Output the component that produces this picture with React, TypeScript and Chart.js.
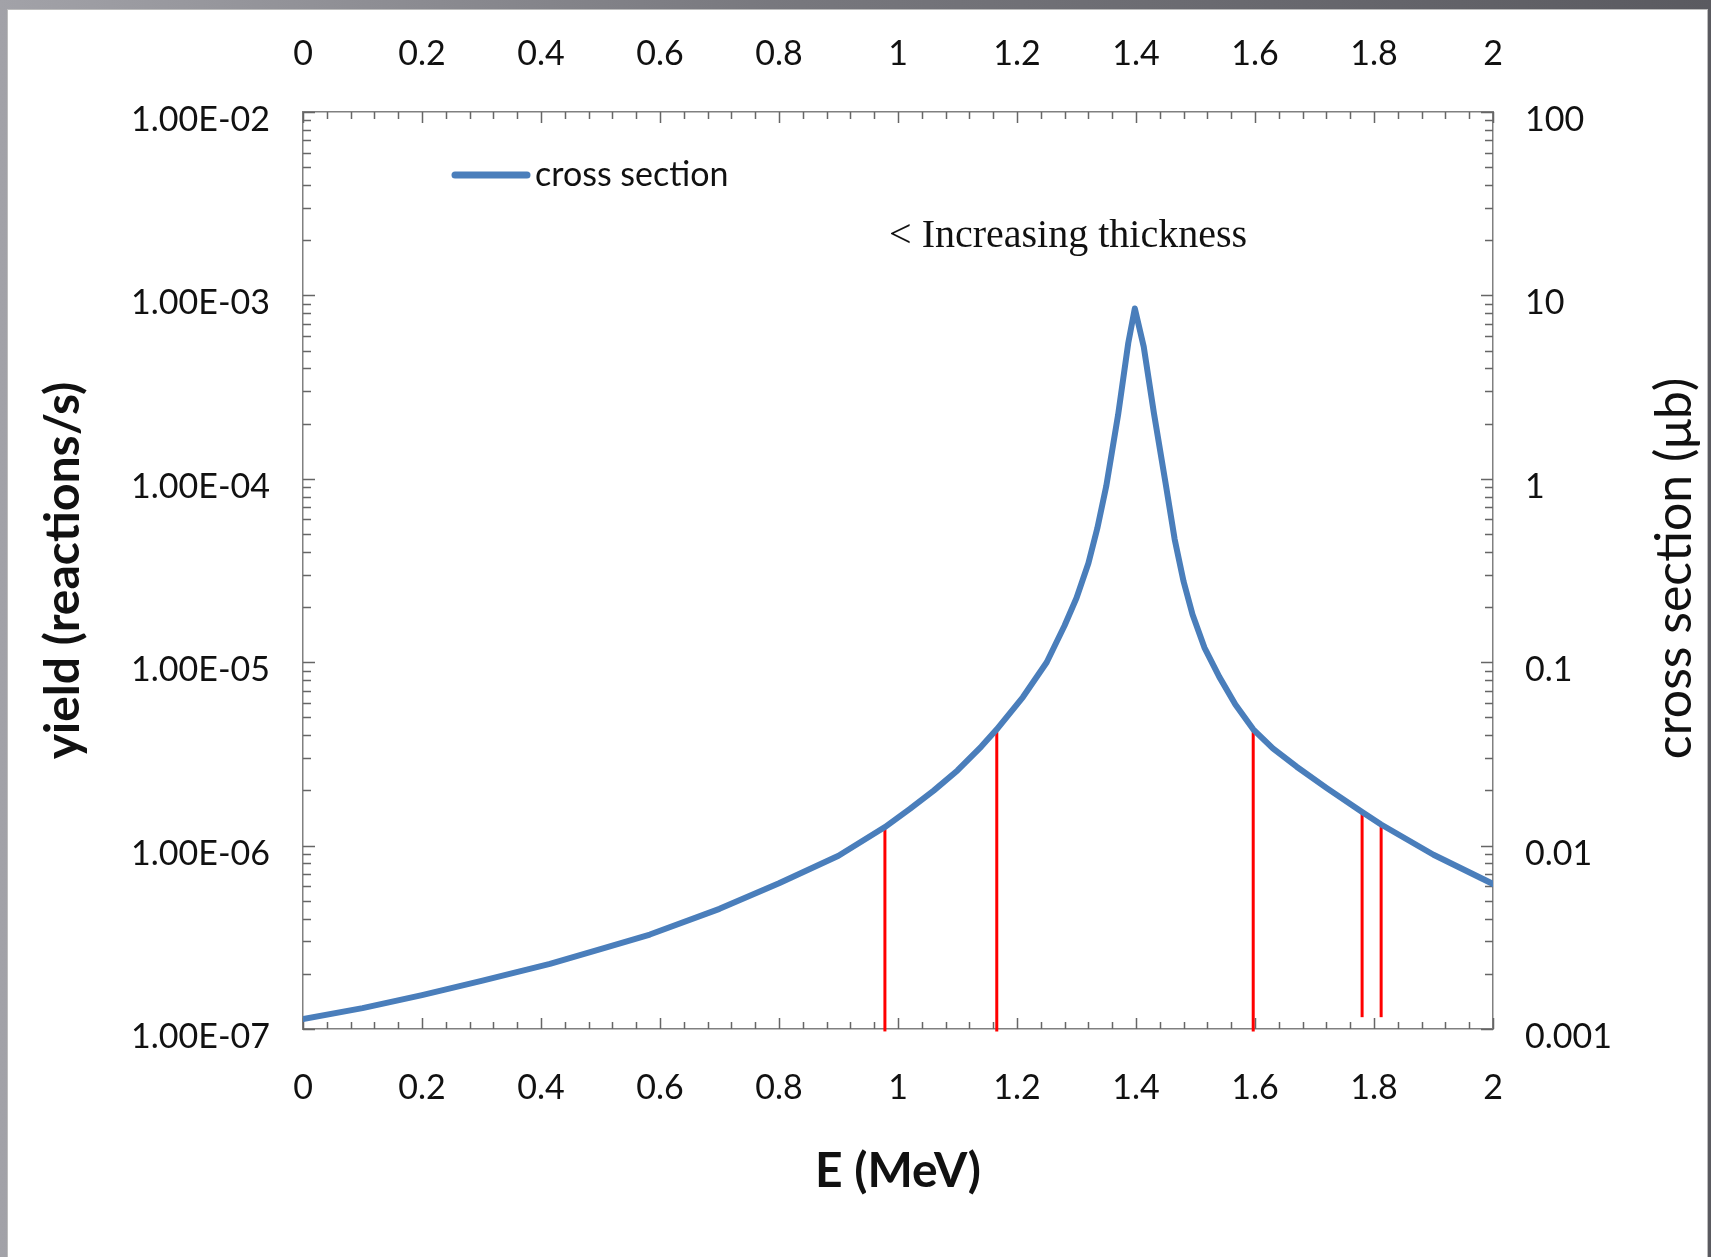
import React, { useEffect, useRef } from 'react';
import { Chart, registerables } from 'chart.js';

Chart.register(...registerables);

// ---- data ----
const energyMeV = [
  0, 0.1, 0.2, 0.3, 0.415, 0.5, 0.583, 0.7, 0.8, 0.9, 0.978, 1.02, 1.06, 1.1, 1.14, 1.166, 1.21,
  1.25, 1.28, 1.3, 1.32, 1.335, 1.35, 1.37, 1.387, 1.398, 1.413, 1.43, 1.45, 1.465, 1.48, 1.495,
  1.515, 1.54, 1.567, 1.597, 1.63, 1.67, 1.72, 1.78, 1.812, 1.9, 2.0,
];
const crossSectionMicrobarn = [
  0.001132, 0.0013, 0.001531, 0.001828, 0.002265, 0.002723, 0.003273, 0.004519, 0.006237, 0.00881,
  0.01262, 0.01585, 0.01995, 0.0257, 0.03467, 0.04305, 0.06457, 0.1, 0.1585, 0.2239, 0.3467, 0.537,
  0.912, 2.239, 5.5, 8.49, 5.25, 2.291, 0.933, 0.4677, 0.2754, 0.182, 0.1202, 0.08318, 0.05888,
  0.04305, 0.03388, 0.02692, 0.02065, 0.01524, 0.01303, 0.008913, 0.00618,
];
const markerEnergyMeV = [0.978, 1.166, 1.597, 1.78, 1.812];
const markerTopYield = [1.262e-6, 4.305e-6, 4.305e-6, 1.524e-6, 1.303e-6];
const markerBottomYield = [9.7e-8, 9.7e-8, 9.7e-8, 1.16e-7, 1.16e-7];

const xTickValues = [0, 0.2, 0.4, 0.6, 0.8, 1, 1.2, 1.4, 1.6, 1.8, 2];
const xTickLabels = ['0', '0.2', '0.4', '0.6', '0.8', '1', '1.2', '1.4', '1.6', '1.8', '2'];
const yieldTickValues = [1e-7, 1e-6, 1e-5, 1e-4, 1e-3, 1e-2];
const yieldTickLabels = ['1.00E-07', '1.00E-06', '1.00E-05', '1.00E-04', '1.00E-03', '1.00E-02'];
const sigmaTickValues = [0.001, 0.01, 0.1, 1, 10, 100];
const sigmaTickLabels = ['0.001', '0.01', '0.1', '1', '10', '100'];

const seriesLabel = 'cross section';
const xTitle = 'E (MeV)';
const yTitle = 'yield (reactions/s)';
const y1Title = 'cross section (\u03bcb)';
const annotationText = '< Increasing thickness';
const annotationE = 0.985;
const annotationYield = 2.1e-3;

const CURVE_COLOR = '#4a7ebb';
const MARKER_COLOR = '#ff0000';
const TEXT_COLOR = '#111111';
const TICK_COLOR = '#666666';
const FRAME_COLOR = '#808080';

const W = 1711;
const H = 1257;

const decorPlugin = {
  id: 'decor',
  beforeDatasetsDraw(chart: any) {
    const { ctx, chartArea: a, scales } = chart;
    const x = scales.x;
    const y = scales.y;
    const y1 = scales.y1;
    ctx.save();
    ctx.strokeStyle = TICK_COLOR;
    ctx.lineWidth = 1.5;
    ctx.beginPath();
    // x ticks (inward), minor every 0.04
    for (let i = 0; i <= 50; i++) {
      const px = Math.round(x.getPixelForValue(i * 0.04)) + 0.5;
      const len = i % 5 === 0 ? 11 : 7;
      ctx.moveTo(px, a.bottom);
      ctx.lineTo(px, a.bottom - len);
      ctx.moveTo(px, a.top);
      ctx.lineTo(px, a.top + len);
    }
    // log ticks (inward)
    for (let d = 0; d < yieldTickValues.length; d++) {
      for (let m = 1; m <= 9; m++) {
        if (d === yieldTickValues.length - 1 && m > 1) break;
        const len = m === 1 ? 12 : 8;
        const py = Math.round(y.getPixelForValue(yieldTickValues[d] * m)) + 0.5;
        ctx.moveTo(a.left, py);
        ctx.lineTo(a.left + len, py);
        const py1 = Math.round(y1.getPixelForValue(sigmaTickValues[d] * m)) + 0.5;
        ctx.moveTo(a.right, py1);
        ctx.lineTo(a.right - len, py1);
      }
    }
    ctx.stroke();
    ctx.restore();
  },
  afterDraw(chart: any) {
    const { ctx, chartArea: a, scales } = chart;
    ctx.save();
    // legend
    const ds = chart.data.datasets[0];
    const ly = a.top + 63;
    ctx.strokeStyle = ds.borderColor;
    ctx.lineWidth = 7;
    ctx.lineCap = 'round';
    ctx.beginPath();
    ctx.moveTo(a.left + 152, ly);
    ctx.lineTo(a.left + 224, ly);
    ctx.stroke();
    ctx.fillStyle = TEXT_COLOR;
    ctx.font = '34px Lato';
    ctx.textAlign = 'left';
    ctx.textBaseline = 'middle';
    ctx.fillText(ds.label, a.left + 232, ly);
    // annotation
    ctx.font = '40px "Liberation Serif"';
    ctx.fillText(
      annotationText,
      scales.x.getPixelForValue(annotationE),
      scales.y.getPixelForValue(annotationYield)
    );
    // right axis title, reading bottom-to-top
    ctx.translate(chart.width - 36, (a.top + a.bottom) / 2 - 2);
    ctx.rotate(-Math.PI / 2);
    ctx.textAlign = 'center';
    ctx.font = '50px Lato';
    ctx.fillText(y1Title, 0, 0);
    ctx.restore();
  },
};

const tickFont = { family: 'Lato', size: 34 };
const border = { display: true, color: FRAME_COLOR, width: 1.5 };

export default function App() {
  const ref = useRef<HTMLCanvasElement | null>(null);

  useEffect(() => {
    if (!ref.current) return;
    const curve = energyMeV.map((e, i) => ({ x: e, y: crossSectionMicrobarn[i] }));
    const markers = markerEnergyMeV.map((e, i) => ({
      label: 'marker' + i,
      data: [
        { x: e, y: markerBottomYield[i] },
        { x: e, y: markerTopYield[i] },
      ],
      xAxisID: 'x',
      yAxisID: 'y',
      borderColor: MARKER_COLOR,
      borderWidth: 3,
      pointRadius: 0,
      clip: false as any,
    }));

    const chart = new Chart(ref.current, {
      type: 'line',
      data: {
        datasets: [
          {
            label: seriesLabel,
            data: curve,
            xAxisID: 'x',
            yAxisID: 'y1',
            borderColor: CURVE_COLOR,
            backgroundColor: CURVE_COLOR,
            borderWidth: 6,
            pointRadius: 0,
            tension: 0,
            borderJoinStyle: 'round',
            borderCapStyle: 'round',
          },
          ...markers,
        ],
      },
      options: {
        animation: false,
        responsive: false,
        devicePixelRatio: 1,
        layout: { padding: 0 },
        plugins: { legend: { display: false }, tooltip: { enabled: false } },
        scales: {
          x: {
            type: 'linear',
            position: 'bottom',
            min: 0,
            max: 2,
            grid: { display: false, drawTicks: false },
            border,
            afterBuildTicks: (s: any) => { s.ticks = xTickValues.map((v) => ({ value: v })); },
            afterFit: (s: any) => { s.height = 228; },
            ticks: {
              autoSkip: false,
              maxRotation: 0,
              padding: 39,
              font: tickFont,
              color: TEXT_COLOR,
              callback: (_v: any, i: number) => xTickLabels[i],
            },
            title: {
              display: true,
              text: xTitle,
              font: { family: 'Lato', size: 48, weight: 'bold' },
              color: TEXT_COLOR,
              padding: { top: 0, bottom: 57 },
            },
          },
          xTop: {
            type: 'linear',
            axis: 'x',
            position: 'top',
            min: 0,
            max: 2,
            grid: { display: false, drawTicks: false },
            border,
            afterBuildTicks: (s: any) => { s.ticks = xTickValues.map((v) => ({ value: v })); },
            afterFit: (s: any) => { s.height = 112; },
            ticks: {
              autoSkip: false,
              maxRotation: 0,
              padding: 38,
              font: tickFont,
              color: TEXT_COLOR,
              callback: (_v: any, i: number) => xTickLabels[i],
            },
          },
          y: {
            type: 'logarithmic',
            position: 'left',
            min: 1e-7,
            max: 1e-2,
            grid: { display: false, drawTicks: false },
            border,
            afterBuildTicks: (s: any) => { s.ticks = yieldTickValues.map((v) => ({ value: v })); },
            afterFit: (s: any) => { s.width = 303; },
            ticks: {
              autoSkip: false,
              padding: 33,
              labelOffset: 8,
              font: tickFont,
              color: TEXT_COLOR,
              callback: (_v: any, i: number) => yieldTickLabels[i],
            },
            title: {
              display: true,
              text: yTitle,
              font: { family: 'Lato', size: 48, weight: 'bold' },
              color: TEXT_COLOR,
              padding: { top: 35, bottom: 0 },
            },
          },
          y1: {
            type: 'logarithmic',
            position: 'right',
            min: 0.001,
            max: 100,
            grid: { display: false, drawTicks: false },
            border,
            afterBuildTicks: (s: any) => { s.ticks = sigmaTickValues.map((v) => ({ value: v })); },
            afterFit: (s: any) => { s.width = 218; },
            ticks: {
              autoSkip: false,
              padding: 32,
              labelOffset: 8,
              font: tickFont,
              color: TEXT_COLOR,
              callback: (_v: any, i: number) => sigmaTickLabels[i],
            },
          },
        },
      } as any,
      plugins: [decorPlugin],
    });
    return () => chart.destroy();
  }, []);

  return (
    <div
      style={{
        position: 'fixed',
        left: 0,
        top: 0,
        width: W,
        height: H,
        overflow: 'hidden',
        background: 'linear-gradient(to right, #a2a2a8 0%, #78787e 45%, #5a5a60 100%)',
      }}
    >
      <div
        style={{
          position: 'absolute',
          left: 7,
          top: 9,
          width: W - 10,
          height: H,
          background: '#ffffff',
          border: '1px solid #bdbdbd',
          boxSizing: 'border-box',
        }}
      />
      <canvas
        ref={ref}
        width={W}
        height={H}
        style={{ position: 'absolute', left: 0, top: 0, width: W, height: H }}
      />
    </div>
  );
}
